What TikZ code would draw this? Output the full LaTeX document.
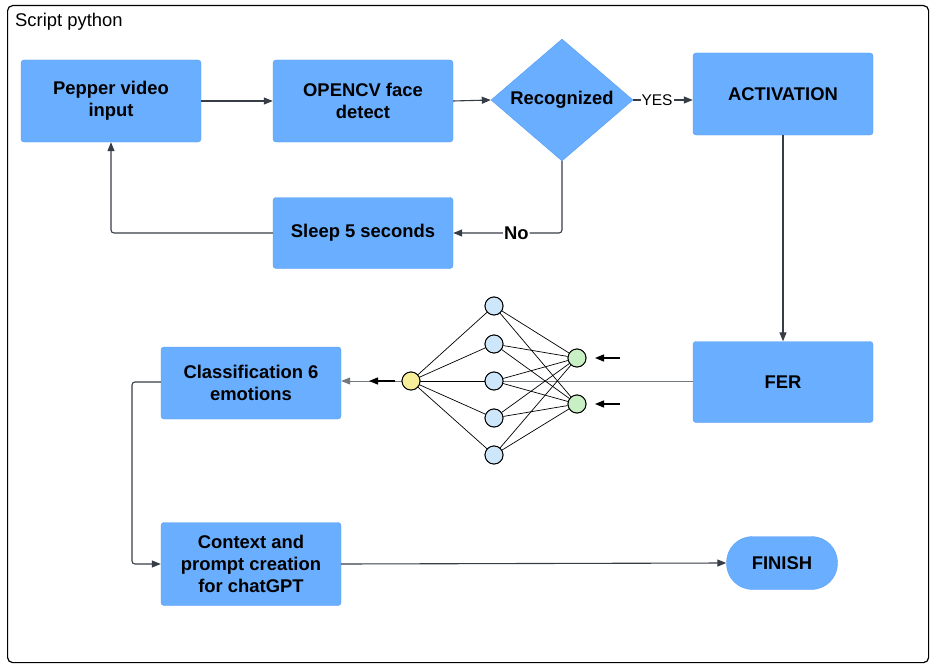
\documentclass[tikz,border=0pt]{standalone}
\usepackage{fontspec}
\setmainfont{Liberation Sans}
\usetikzlibrary{shapes.geometric,arrows.meta}
\definecolor{boxblue}{HTML}{6AAEFF}
\definecolor{edgeblue}{HTML}{5A9EF0}
\definecolor{conn}{HTML}{373D47}
\definecolor{hidblue}{HTML}{CDE6FA}
\definecolor{outyel}{HTML}{F7EE9A}
\definecolor{ingreen}{HTML}{C8F0C4}
\tikzset{
  boxfont/.style={font=\bfseries\fontsize{18.4}{22}\selectfont},
  proc/.style={draw=edgeblue, fill=boxblue, rounded corners=3pt, minimum width=180pt, align=center, boxfont, text=black},
  conline/.style={draw=conn, line width=1.1pt, -{Triangle[length=9pt,width=7pt]}},
  nn/.style={circle, draw=black, line width=0.9pt, minimum size=18pt, inner sep=0pt},
  nnedge/.style={draw=black, line width=0.7pt},
}
\begin{document}
\begin{tikzpicture}[x=1pt,y=-1pt]
\useasboundingbox (0,0) rectangle (935,669);
\node[draw=black, line width=1.2pt, rounded corners=5pt, minimum width=921pt, minimum height=657pt, anchor=north west] (frame) at (7,5) {};
\node[anchor=west, font=\fontsize{18.4}{21}\selectfont, inner sep=0pt] (title) at (15,22) {Script python};

\node[proc, minimum height=82pt] (pepper) at (111,101) {Pepper video\\input};
\node[proc, minimum height=82pt] (opencv) at (363,101) {OPENCV face\\detect};
\node[diamond, draw=edgeblue, fill=boxblue, minimum width=142pt, minimum height=122pt, inner sep=0pt, boxfont] (recog) at (562,100) {Recognized};
\node[proc, minimum height=82pt] (activ) at (783,94) {ACTIVATION};
\node[proc, minimum height=71pt] (sleep) at (363,233) {Sleep 5 seconds};
\node[proc, minimum height=81pt] (fer) at (783,382) {FER};
\node[proc, minimum height=72pt] (classif) at (251,383) {Classification 6\\emotions};
\node[proc, minimum height=83pt] (context) at (251,564) {Context and\\prompt creation\\for chatGPT};
\node[draw=edgeblue, fill=boxblue, rounded corners=26pt, minimum width=111pt, minimum height=53pt, boxfont] (finish) at (782,563) {FINISH};

% connectors
\draw[conline] (pepper.east) -- (opencv.east -| opencv.west);
\draw[conline] (opencv.east) -- (recog.west);
\draw[conline] (recog.east) -- node[pos=0.4, fill=white, inner sep=1pt, font=\fontsize{15.5}{17}\selectfont] (yes) {YES} (recog.east -| activ.west);
\draw[conline, rounded corners=3pt] (recog.south) |- node[pos=0.71, fill=white, inner sep=1pt, boxfont] (no) {No} (sleep.east);
\draw[conline, rounded corners=3pt] (sleep.west) -| (pepper.south);
\draw[conline] (activ.south) -- (fer.north);
\draw[conline, draw=conn!70, line width=0.9pt] (fer.west |- 0,381) -- (classif.east |- 0,381);
\coordinate (cbend) at (132,382);
\draw[conline, rounded corners=3pt] (classif.west |- 0,382) -- (cbend) |- (context.west);
\draw[conline] (context.east) -- (finish.west);

% neural network
\node[nn, fill=outyel] (o1) at (411,381) {};
\foreach \i/\y in {1/306,2/344,3/381,4/418,5/455} {
  \node[nn, fill=hidblue] (h\i) at (494,\y) {};
}
\node[nn, fill=ingreen] (g1) at (577,358) {};
\node[nn, fill=ingreen] (g2) at (577,404) {};
\foreach \i in {1,...,5} {
  \draw[nnedge] (o1) -- (h\i);
  \draw[nnedge] (h\i) -- (g1);
  \draw[nnedge] (h\i) -- (g2);
}
% redraw nodes on top
\node[nn, fill=outyel] at (o1) {};
\foreach \i in {1,...,5} { \node[nn, fill=hidblue] at (h\i) {}; }
\node[nn, fill=ingreen] at (g1) {};
\node[nn, fill=ingreen] at (g2) {};

\coordinate (a1s) at (620,358);
\coordinate (a1e) at (595,358);
\coordinate (a2s) at (620,404);
\coordinate (a2e) at (595,404);
\coordinate (a3s) at (395,381);
\coordinate (a3e) at (369,381);
\draw[black, line width=1.3pt, -{Triangle[length=9pt,width=7pt]}] (a1s) -- (a1e);
\draw[black, line width=1.3pt, -{Triangle[length=9pt,width=7pt]}] (a2s) -- (a2e);
\draw[black, line width=1.3pt, -{Triangle[length=9pt,width=7pt]}] (a3s) -- (a3e);
\end{tikzpicture}
\end{document}
